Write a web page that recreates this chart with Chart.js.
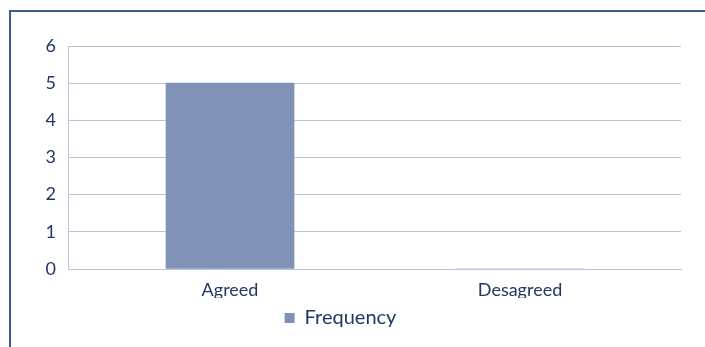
<!DOCTYPE html>
<html>
<head>
<meta charset="utf-8">
<script src="https://cdn.jsdelivr.net/npm/chart.js@4/dist/chart.umd.min.js"></script>
<style>
    body { margin: 0; background: #fff; }
    .wrap { position: relative; width: 705px; height: 347px; overflow: hidden; }
    .frame { position: absolute; left: 9px; top: 10px; width: 800px; height: 400px;
             border-top: 2px solid #3d5a8a; border-left: 2px solid #3d5a8a; }
    canvas { position: absolute; left: 0; top: 0; }
</style>
</head>
<body>
<div class="wrap">
    <canvas id="freqChart" width="705" height="347"></canvas>
    <div class="frame"></div>
</div>
<script>
const categories = ['Agreed', 'Desagreed'];
const frequency = [5, 0];
const yTicks = [0, 1, 2, 3, 4, 5, 6];

const textColor = '#1f3864';
const gridColor = '#b9c3d9';
const font = { family: 'Lato', size: 18 };

new Chart(document.getElementById('freqChart'), {
    type: 'bar',
    data: {
        datasets: [{
            label: 'Frequency',
            data: categories.map((c, i) => ({ x: i, y: frequency[i] })),
            backgroundColor: '#7f91b6',
            barThickness: 128
        }]
    },
    options: {
        responsive: false,
        animation: false,
        layout: { padding: { top: 46, right: 24, left: 0, bottom: 9 } },
        scales: {
            x: {
                type: 'linear',
                offset: false,
                min: -0.5586,
                max: 1.555,
                afterBuildTicks: s => { s.ticks = categories.map((c, i) => ({ value: i })); },
                afterFit: s => { s.height = 29; },
                grid: { display: false },
                border: { color: gridColor },
                ticks: { color: textColor, font: font, padding: 2, callback: v => categories[v] }
            },
            y: {
                min: 0,
                max: 6,
                afterBuildTicks: s => { s.ticks = yTicks.map(v => ({ value: v })); },
                afterFit: s => { s.width = 68; },
                grid: { color: gridColor, drawTicks: false },
                border: { color: gridColor },
                ticks: { color: textColor, font: font, padding: 12 }
            }
        },
        plugins: {
            legend: {
                position: 'bottom',
                labels: { color: textColor, font: { family: 'Lato', size: 20 }, boxWidth: 10, boxHeight: 10, padding: 10 }
            },
            tooltip: { enabled: false }
        }
    }
});
</script>
</body>
</html>
